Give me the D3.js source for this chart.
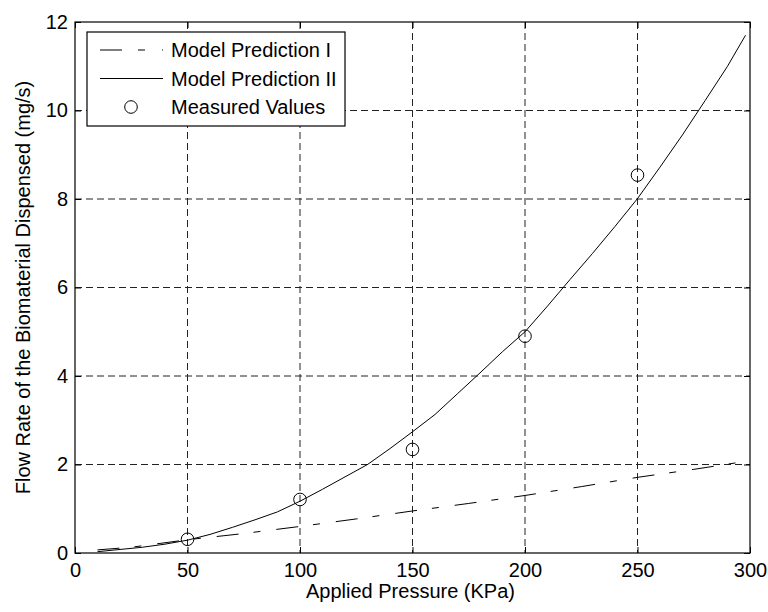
<!DOCTYPE html>
<html>
<head>
<meta charset="utf-8">
<script src="https://cdn.jsdelivr.net/npm/d3@7"></script>
<style>
  body { margin: 0; background: #fff; }
  svg text { font-family: "Liberation Sans", Arial, sans-serif; fill: #000; }
</style>
</head>
<body>
<div id="chart"></div>
<script>
// data
const model1X = [10, 25, 50, 75, 100, 125, 150, 175, 200, 225, 250, 275, 298];
const model1Y = [0.07, 0.13, 0.3, 0.44, 0.6, 0.77, 0.95, 1.12, 1.3, 1.5, 1.71, 1.89, 2.07];
const model2X = [10, 20, 30, 40, 50, 60, 70, 80, 90, 100, 110, 120, 130, 140, 150, 160, 170, 180, 190, 200, 210, 220, 230, 240, 250, 260, 270, 280, 290, 298];
const model2Y = [0.03, 0.08, 0.13, 0.2, 0.29, 0.42, 0.58, 0.75, 0.93, 1.17, 1.44, 1.72, 2.0, 2.36, 2.74, 3.13, 3.6, 4.07, 4.55, 5.0, 5.58, 6.18, 6.77, 7.38, 8.01, 8.72, 9.45, 10.22, 11.0, 11.7];
const measuredX = [50, 100, 150, 200, 250];
const measuredY = [0.31, 1.21, 2.34, 4.9, 8.54];
const xTicks = [0, 50, 100, 150, 200, 250, 300];
const yTicks = [0, 2, 4, 6, 8, 10, 12];
const legendLabels = ["Model Prediction I", "Model Prediction II", "Measured Values"];

var W = 768, H = 612;
var margin = { top: 22, right: 18, bottom: 59, left: 75 };
var width = W - margin.left - margin.right,
  height = H - margin.top - margin.bottom;

var svg = d3.select("#chart").append("svg")
  .attr("width", W).attr("height", H);
var g = svg.append("g")
  .attr("transform", "translate(" + margin.left + "," + margin.top + ")");

var x = d3.scaleLinear().domain([0, 300]).range([0, width]);
var y = d3.scaleLinear().domain([0, 12]).range([height, 0]);

// grid
g.append("g").selectAll("line").data(xTicks.slice(1, -1)).enter().append("line")
  .attr("x1", d => x(d)).attr("x2", d => x(d))
  .attr("y1", 0).attr("y2", height)
  .attr("stroke", "#222").attr("stroke-dasharray", "7,4");
g.append("g").selectAll("line").data(yTicks.slice(1, -1)).enter().append("line")
  .attr("y1", d => y(d)).attr("y2", d => y(d))
  .attr("x1", 0).attr("x2", width)
  .attr("stroke", "#222").attr("stroke-dasharray", "7,4");

// axes, ticks inside like matlab
var fs = "20px";
var xAxis = g.append("g").attr("transform", "translate(0," + height + ")")
  .call(d3.axisBottom(x).tickValues(xTicks).tickSizeInner(-6).tickSizeOuter(0).tickPadding(10));
var yAxis = g.append("g")
  .call(d3.axisLeft(y).tickValues(yTicks).tickSizeInner(-6).tickSizeOuter(0).tickPadding(7));
g.append("g").call(d3.axisTop(x).tickValues(xTicks).tickSizeInner(-6).tickSizeOuter(0).tickFormat(""));
g.append("g").attr("transform", "translate(" + width + ",0)")
  .call(d3.axisRight(y).tickValues(yTicks).tickSizeInner(-6).tickSizeOuter(0).tickFormat(""));
g.selectAll(".domain").remove();
g.selectAll(".tick line").attr("stroke", "#000");
g.selectAll(".tick text").style("font-size", fs).style("font-family", "Liberation Sans, Arial, sans-serif");

g.append("rect").attr("width", width).attr("height", height)
  .attr("fill", "none").attr("stroke", "#000").attr("stroke-width", 1.2);

// lines
var line = d3.line().x(d => x(d[0])).y(d => y(d[1]));
g.append("path").datum(d3.zip(model1X, model1Y))
  .attr("d", line).attr("fill", "none").attr("stroke", "#000")
  .attr("stroke-dasharray", "22,15,7,16");
g.append("path").datum(d3.zip(model2X, model2Y))
  .attr("d", line).attr("fill", "none").attr("stroke", "#000");
g.append("g").selectAll("circle").data(d3.zip(measuredX, measuredY)).enter()
  .append("circle")
  .attr("cx", d => x(d[0])).attr("cy", d => y(d[1])).attr("r", 6.3)
  .attr("fill", "none").attr("stroke", "#000");

// labels
svg.append("text").attr("x", margin.left + width / 2 - 2).attr("y", 598)
  .attr("text-anchor", "middle").style("font-size", fs)
  .text("Applied Pressure (KPa)");
svg.append("text")
  .attr("transform", "translate(30," + (margin.top + height / 2) + ") rotate(-90)")
  .attr("text-anchor", "middle").style("font-size", fs)
  .text("Flow Rate of the Biomaterial Dispensed (mg/s)");

// legend
var leg = svg.append("g").attr("transform", "translate(87,32)");
leg.append("rect").attr("width", 258).attr("height", 94)
  .attr("fill", "#fff").attr("stroke", "#000").attr("stroke-width", 1.2);
var rows = leg.selectAll("g.row").data(legendLabels).enter().append("g")
  .attr("class", "row")
  .attr("transform", (d, i) => "translate(0," + (18 + i * 28.5) + ")");
rows.append("text").attr("x", 84).attr("dy", "0.35em").style("font-size", fs)
  .text(d => d);
rows.filter((d, i) => i === 0).append("line")
  .attr("x1", 13).attr("x2", 76).attr("stroke", "#000")
  .attr("stroke-dasharray", "22,16,7,17");
rows.filter((d, i) => i === 1).append("line")
  .attr("x1", 13).attr("x2", 76).attr("stroke", "#000");
rows.filter((d, i) => i === 2).append("circle")
  .attr("cx", 44).attr("r", 6.3).attr("fill", "none").attr("stroke", "#000");
</script>
</body>
</html>
